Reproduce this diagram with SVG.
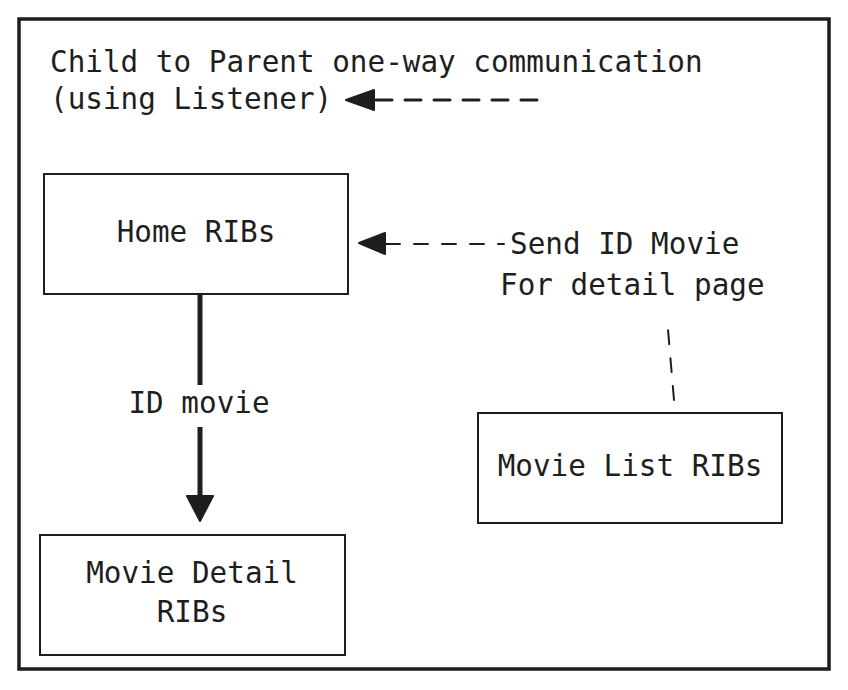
<svg xmlns="http://www.w3.org/2000/svg" width="848" height="690" viewBox="0 0 848 690">
<style>
  text { font-family: "DejaVu Sans Mono", "Liberation Mono", monospace; font-size: 29.3px; fill: #1e1e1e; }
  .box { fill: #ffffff; stroke: #1e1e1e; stroke-width: 2; }
  .frame { fill: #ffffff; stroke: #1e1e1e; stroke-width: 3.5; }
  .dash { fill: none; stroke: #1e1e1e; stroke-width: 3; stroke-dasharray: 16 13; stroke-linecap: round; }
  .dash2 { fill: none; stroke: #1e1e1e; stroke-width: 2; stroke-dasharray: 14 14; stroke-linecap: round; }
  .solid { fill: none; stroke: #1e1e1e; stroke-width: 5; }
  .head { fill: #1e1e1e; stroke: #1e1e1e; stroke-width: 2; stroke-linejoin: round; }
</style>
<rect width="848" height="690" fill="#ffffff"/>
<g id="frame">
  <rect class="frame" x="19" y="19" width="810" height="650"/>
  <text x="50" y="72">Child to Parent one-way communication</text>
  <text x="50" y="109">(using Listener)</text>
</g>
<g id="home">
  <rect class="box" x="44" y="174" width="304" height="120"/>
  <text x="196" y="242" text-anchor="middle">Home RIBs</text>
</g>
<g id="detail">
  <rect class="box" x="40" y="535" width="305" height="120"/>
  <text x="192" y="583" text-anchor="middle">Movie Detail</text>
  <text x="192" y="622" text-anchor="middle">RIBs</text>
</g>
<g id="list">
  <rect class="box" x="478" y="413" width="304" height="110"/>
  <text x="630" y="476" text-anchor="middle">Movie List RIBs</text>
</g>
<g id="connectors">
  <line class="dash" x1="376" y1="100" x2="544" y2="100"/>
  <polygon class="head" points="346,100 374,90 374,110"/>
  <line class="solid" x1="200" y1="295" x2="200" y2="385"/>
  <line class="solid" x1="200" y1="427" x2="200" y2="498"/>
  <polygon class="head" points="187,496 213,496 200,521"/>
  <text x="199" y="413" text-anchor="middle">ID movie</text>
  <line class="dash2" x1="674" y1="400" x2="667" y2="318"/>
  <line class="dash2" x1="386" y1="244" x2="504" y2="244"/>
  <polygon class="head" points="359,243 385,233 385,254"/>
  <text x="510" y="254">Send ID Movie</text>
  <text x="500" y="295">For detail page</text>
</g>
</svg>
